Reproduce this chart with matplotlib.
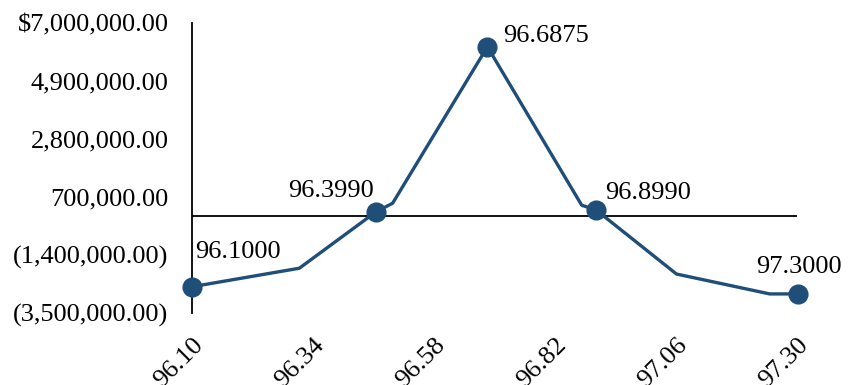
import matplotlib
matplotlib.use("Agg")
import matplotlib.pyplot as plt

# line vertices (x, value)
x_vals = [96.100, 96.313, 96.465, 96.498, 96.686, 96.873, 96.902, 97.061, 97.246, 97.303]
y_vals = [-2.55e6, -1.88e6, 0.16e6, 0.47e6, 6.13e6, 0.40e6, 0.22e6, -2.09e6, -2.81e6, -2.81e6]

# marked points and their labels
mark_idx = [0, 2, 4, 6, 9]
mark_labels = ["96.1000", "96.3990", "96.6875", "96.8990", "97.3000"]

x_ticks = [96.10, 96.34, 96.58, 96.82, 97.06, 97.30]
y_ticks = [-3.5e6, -1.4e6, 0.7e6, 2.8e6, 4.9e6, 7.0e6]

col = "#1F4E79"
plt.rcParams['font.family'] = ['Liberation Serif', 'DejaVu Serif']

def money(v, top=False):
    s = "{:,.2f}".format(abs(v))
    if v < 0:
        return "(" + s + ")"
    if top:
        return "$" + s
    return s

fig = plt.figure(figsize=(8.48, 3.85), dpi=100)
ax = fig.add_axes([0.2264, 0.187, 0.9398 - 0.2264, 0.941 - 0.187])

ax.plot(x_vals, y_vals, color=col, lw=2.4, clip_on=False, zorder=3)
ax.plot([x_vals[i] for i in mark_idx], [y_vals[i] for i in mark_idx], 'o',
        color=col, ms=13.5, clip_on=False, zorder=4)

ax.axhline(0, color='black', lw=1.3, zorder=2)

# label offsets in pixels (dx, dy, ha)
offs = [(3, 29, 'left'), (-2, 15, 'right'), (16, 5, 'left'), (9, 11, 'left'), (0, 21, 'center')]
for i, lab, (dx, dy, ha) in zip(mark_idx, mark_labels, offs):
    ax.annotate(lab, (x_vals[i], y_vals[i]), xytext=(dx, dy), textcoords='offset pixels',
                ha=ha, va='baseline', fontsize=19, color='black', annotation_clip=False)

ax.set_xlim(96.10, 97.30)
ax.set_ylim(-3.5e6, 7.0e6)
ax.set_xticks(x_ticks)
ax.set_xticklabels(["%.2f" % v for v in x_ticks], rotation=45, ha='right',
                   va='top', rotation_mode='anchor')
ax.set_yticks(y_ticks)
ax.set_yticklabels([money(v, top=(v == y_ticks[-1])) for v in y_ticks])
ax.tick_params(axis='y', length=0, pad=17, labelsize=19, colors='black')
ax.tick_params(axis='x', length=0, pad=15, labelsize=19, colors='black')

for s in ['top', 'right', 'bottom']:
    ax.spines[s].set_visible(False)
ax.spines['left'].set_linewidth(1.3)

fig.savefig("out.png", dpi=100)
